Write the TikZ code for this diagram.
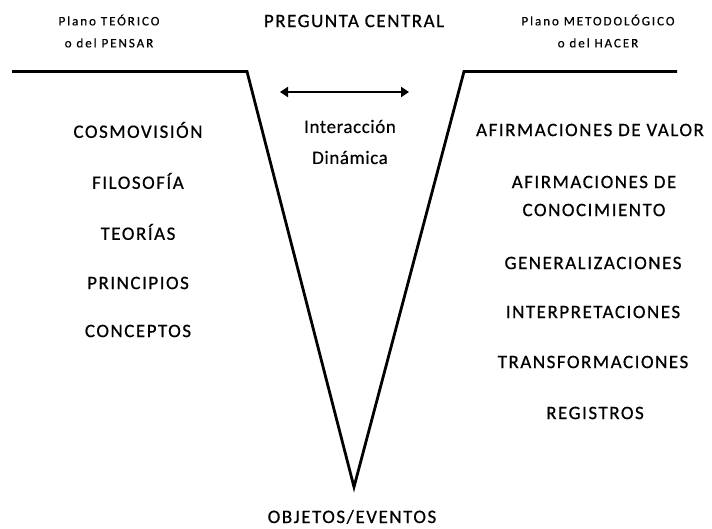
\documentclass[tikz,border=0pt]{standalone}
\usepackage{fontspec}
\setmainfont{Carlito}
\newfontfamily\spacedfont[LetterSpace=8,FakeBold=0.6]{Carlito}
\newfontfamily\smallspaced[LetterSpace=15,FakeBold=0.5]{Carlito}
\newfontfamily\midspaced[LetterSpace=3,FakeBold=0.3]{Carlito}
\usetikzlibrary{arrows.meta}
\begin{document}
\begin{tikzpicture}[x=1pt,y=-1pt,
  lbl/.style={inner sep=0pt,anchor=center,font=\spacedfont\fontsize{19}{22}\selectfont},
  small/.style={inner sep=0pt,anchor=center,font=\smallspaced\fontsize{13}{22}\selectfont,align=center},
  vline/.style={line width=2.8pt,line join=miter},
  harrow/.style={line width=2.6pt,{Triangle[length=8pt,width=10pt]}-{Triangle[length=8pt,width=10pt]}}]
\useasboundingbox (0,0) rectangle (712,529);
% V shape
\coordinate (l0) at (12,71.5);
\coordinate (l1) at (247,71.5);
\coordinate (v) at (354,487);
\coordinate (r1) at (464,71.5);
\coordinate (r0) at (677,71.5);
\draw[vline] (l0) -- (l1) -- (v) -- (r1) -- (r0);
% arrow
\coordinate (a1) at (280,92);
\coordinate (a2) at (409,92);
\draw[harrow] (a1) -- (a2);
% headers
\node[small] (pt) at (109,31) {Plano TEÓRICO\\o del PENSAR};
\node[lbl] (pc) at (354,21) {PREGUNTA CENTRAL};
\node[small] (pm) at (598,31) {Plano METODOLÓGICO\\o del HACER};
\node[inner sep=0pt,align=center,font=\midspaced\fontsize{19}{31}\selectfont] (id) at (350,142) {Interacción\\Dinámica};
% left list
\node[lbl] (c1) at (138,130) {COSMOVISIÓN};
\node[lbl] (c2) at (138,181) {FILOSOFÍA};
\node[lbl] (c3) at (138,232) {TEORÍAS};
\node[lbl] (c4) at (138,283) {PRINCIPIOS};
\node[lbl] (c5) at (138,331) {CONCEPTOS};
% right list
\node[lbl] (d1) at (590,130) {AFIRMACIONES DE VALOR};
\node[lbl,align=center,font=\spacedfont\fontsize{19}{28}\selectfont] (d2) at (594,196) {AFIRMACIONES DE\\CONOCIMIENTO};
\node[lbl] (d3) at (593,263) {GENERALIZACIONES};
\node[lbl] (d4) at (593,312) {INTERPRETACIONES};
\node[lbl] (d5) at (593,362) {TRANSFORMACIONES};
\node[lbl] (d6) at (595,413) {REGISTROS};
\node[lbl,anchor=base] (oe) at (352,523) {OBJETOS/EVENTOS};
\end{tikzpicture}
\end{document}
